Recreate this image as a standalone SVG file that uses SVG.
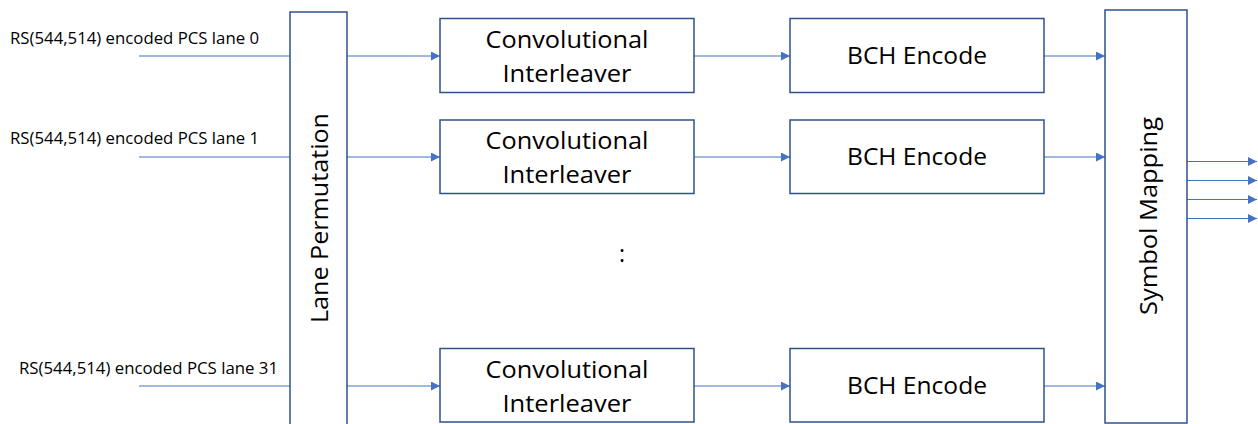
<svg xmlns="http://www.w3.org/2000/svg" width="1258" height="424" viewBox="0 0 1258 424">
  <style>
    .box { fill: #ffffff; stroke: #2F528F; stroke-width: 1.5; }
    .wire { stroke: #4472C4; stroke-width: 1.2; fill: none; }
    .lbl { font-family: "Open Sans", "Liberation Sans", sans-serif; font-size: 16.5px; fill: #000; }
    .big { font-family: "Open Sans", "Liberation Sans", sans-serif; font-size: 23px; fill: #000; text-anchor: middle; }
  </style>
  <defs>
    <marker id="arrow" viewBox="0 0 10 10" refX="10" refY="5" markerWidth="10" markerHeight="9" markerUnits="userSpaceOnUse" orient="auto">
      <path d="M0,0 L10,5 L0,10 z" fill="#4472C4"/>
    </marker>
  </defs>
  <rect width="1258" height="424" fill="#ffffff"/>

  <!-- input lane labels -->
  <g id="labels">
    <text class="lbl" x="10" y="44" textLength="249" lengthAdjust="spacingAndGlyphs">RS(544,514) encoded PCS lane 0</text>
    <text class="lbl" x="10" y="144" textLength="249" lengthAdjust="spacingAndGlyphs">RS(544,514) encoded PCS lane 1</text>
    <text class="lbl" x="19" y="374" textLength="259" lengthAdjust="spacingAndGlyphs">RS(544,514) encoded PCS lane 31</text>
  </g>

  <!-- connectors -->
  <g id="connectors">
    <line class="wire" x1="139" y1="56" x2="290" y2="56"/>
    <line class="wire" x1="139" y1="157" x2="290" y2="157"/>
    <line class="wire" x1="139" y1="386" x2="290" y2="386"/>

    <line class="wire" x1="347" y1="56" x2="440" y2="56" marker-end="url(#arrow)"/>
    <line class="wire" x1="347" y1="157" x2="440" y2="157" marker-end="url(#arrow)"/>
    <line class="wire" x1="347" y1="386" x2="440" y2="386" marker-end="url(#arrow)"/>

    <line class="wire" x1="694" y1="56" x2="790" y2="56" marker-end="url(#arrow)"/>
    <line class="wire" x1="694" y1="157" x2="790" y2="157" marker-end="url(#arrow)"/>
    <line class="wire" x1="694" y1="386" x2="790" y2="386" marker-end="url(#arrow)"/>

    <line class="wire" x1="1044" y1="56" x2="1105" y2="56" marker-end="url(#arrow)"/>
    <line class="wire" x1="1044" y1="157" x2="1105" y2="157" marker-end="url(#arrow)"/>
    <line class="wire" x1="1044" y1="386" x2="1105" y2="386" marker-end="url(#arrow)"/>

    <line class="wire" x1="1187" y1="161.5" x2="1257" y2="161.5" marker-end="url(#arrow)"/>
    <line class="wire" x1="1187" y1="180.5" x2="1257" y2="180.5" marker-end="url(#arrow)"/>
    <line class="wire" x1="1187" y1="199.5" x2="1257" y2="199.5" marker-end="url(#arrow)"/>
    <line class="wire" x1="1187" y1="218.5" x2="1257" y2="218.5" marker-end="url(#arrow)"/>
  </g>

  <!-- lane permutation -->
  <g id="lane-permutation">
    <rect class="box" x="290" y="12" width="57" height="420"/>
    <text class="big" transform="translate(328,218) rotate(-90)" textLength="210" lengthAdjust="spacingAndGlyphs">Lane Permutation</text>
  </g>

  <!-- interleavers -->
  <g id="interleaver-0">
    <rect class="box" x="440" y="18.5" width="254" height="74"/>
    <text class="big" x="567" y="48" textLength="163" lengthAdjust="spacingAndGlyphs">Convolutional</text>
    <text class="big" x="567" y="82" textLength="129" lengthAdjust="spacingAndGlyphs">Interleaver</text>
  </g>
  <g id="interleaver-1">
    <rect class="box" x="440" y="120" width="254" height="73.5"/>
    <text class="big" x="567" y="149" textLength="163" lengthAdjust="spacingAndGlyphs">Convolutional</text>
    <text class="big" x="567" y="183" textLength="129" lengthAdjust="spacingAndGlyphs">Interleaver</text>
  </g>
  <g id="interleaver-31">
    <rect class="box" x="440" y="348.5" width="254" height="73.5"/>
    <text class="big" x="567" y="378" textLength="163" lengthAdjust="spacingAndGlyphs">Convolutional</text>
    <text class="big" x="567" y="412" textLength="129" lengthAdjust="spacingAndGlyphs">Interleaver</text>
  </g>

  <!-- BCH encoders -->
  <g id="bch-0">
    <rect class="box" x="790" y="18.5" width="254" height="74"/>
    <text class="big" x="917" y="64" textLength="140" lengthAdjust="spacingAndGlyphs">BCH Encode</text>
  </g>
  <g id="bch-1">
    <rect class="box" x="790" y="120" width="254" height="73.5"/>
    <text class="big" x="917" y="165" textLength="140" lengthAdjust="spacingAndGlyphs">BCH Encode</text>
  </g>
  <g id="bch-31">
    <rect class="box" x="790" y="348.5" width="254" height="73.5"/>
    <text class="big" x="917" y="394" textLength="140" lengthAdjust="spacingAndGlyphs">BCH Encode</text>
  </g>

  <!-- ellipsis between lanes -->
  <text class="big" x="622" y="262">:</text>

  <!-- symbol mapping -->
  <g id="symbol-mapping">
    <rect class="box" x="1105" y="10" width="82" height="413"/>
    <text class="big" transform="translate(1157,216) rotate(-90)" textLength="198" lengthAdjust="spacingAndGlyphs">Symbol Mapping</text>
  </g>
</svg>
